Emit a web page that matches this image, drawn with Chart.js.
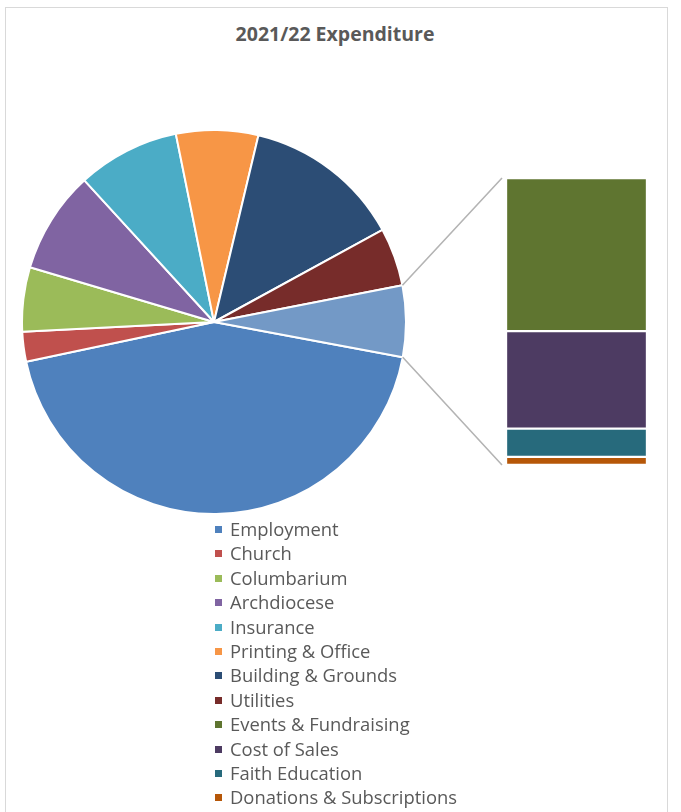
<!DOCTYPE html>
<html>
<head>
<meta charset="utf-8">
<script src="https://cdn.jsdelivr.net/npm/chart.js@4.4.1/dist/chart.umd.min.js"></script>
<style>
  body { margin: 0; background: #fff; font-family: 'Open Sans', sans-serif; }
  #frame { position: absolute; left: 5px; top: 7px; width: 661px; height: 820px; border: 1px solid #d9d9d9; }
  #title { position: absolute; left: 0; top: 20px; width: 670px; text-align: center; font-weight: bold; font-size: 19.5px; line-height: 28px; color: #595959; }
  #pie { position: absolute; left: 21px; top: 129px; }
  #bar { position: absolute; left: 506px; top: 178px; }
  #lines { position: absolute; left: 0; top: 0; pointer-events: none; }
  #legend { position: absolute; left: 214px; top: 517px; margin: 0; padding: 0; list-style: none; }
  #legend li { height: 24.4px; line-height: 24.4px; font-size: 18.4px; color: #595959; white-space: nowrap; }
  #legend span { display: inline-block; width: 7px; height: 7px; margin: 0 8px 3px 1px; vertical-align: middle; }
</style>
</head>
<body>
<div id="frame"></div>
<div id="title">2021/22 Expenditure</div>
<canvas id="pie" width="386" height="386"></canvas>
<canvas id="bar" width="141" height="287"></canvas>
<canvas id="lines" width="681" height="812"></canvas>
<ul id="legend"></ul>
<script>
// Dati (quote percentuali stimate)
const categories = ['Employment', 'Church', 'Columbarium', 'Archdiocese', 'Insurance', 'Printing & Office',
  'Building & Grounds', 'Utilities', 'Events & Fundraising', 'Cost of Sales', 'Faith Education', 'Donations & Subscriptions'];
const values = [43.7, 2.5, 5.4, 8.6, 8.6, 6.9, 13.3, 4.9, 3.2, 2.04, 0.59, 0.17];
const colors = ['#4F81BD', '#C0504D', '#9BBB59', '#8064A2', '#4BACC6', '#F79646',
  '#2C4D75', '#772C2A', '#5F7530', '#4D3B62', '#276A7C', '#B65708'];
const pieCount = 8;          // le prime 8 voci nella torta, le altre nella barra
const otherColor = '#7399C6';

const otherValues = values.slice(pieCount);
const otherTotal = otherValues.reduce((a, b) => a + b, 0);

// Torta principale
const pieChart = new Chart(document.getElementById('pie'), {
  type: 'pie',
  data: {
    labels: categories.slice(0, pieCount).concat(['Other']),
    datasets: [{
      data: values.slice(0, pieCount).concat([otherTotal]),
      backgroundColor: colors.slice(0, pieCount).concat([otherColor]),
      borderColor: '#ffffff',
      borderWidth: 2
    }]
  },
  options: {
    responsive: false,
    animation: false,
    rotation: 100.6,
    layout: { padding: 0 },
    plugins: { legend: { display: false }, tooltip: { enabled: false } }
  }
});

// Barra di dettaglio per "Other"
const barChart = new Chart(document.getElementById('bar'), {
  type: 'bar',
  data: {
    labels: [''],
    datasets: otherValues.map((v, i) => ({
      label: categories[pieCount + i],
      data: [v],
      backgroundColor: colors[pieCount + i],
      borderColor: '#ffffff',
      borderWidth: 1.5,
      borderSkipped: false,
      barPercentage: 1,
      categoryPercentage: 1
    }))
  },
  options: {
    responsive: false,
    animation: false,
    layout: { padding: 0 },
    plugins: { legend: { display: false }, tooltip: { enabled: false } },
    scales: {
      x: { display: false, stacked: true },
      y: { display: false, stacked: true, reverse: true, min: 0, max: otherTotal }
    }
  }
});

// Linee di collegamento tra la fetta "Other" e la barra
(function drawConnectors() {
  const ctx = document.getElementById('lines').getContext('2d');
  const arc = pieChart.getDatasetMeta(0).data[pieCount];
  const pieBox = document.getElementById('pie');
  const barBox = document.getElementById('bar');
  const px = pieBox.offsetLeft + arc.x, py = pieBox.offsetTop + arc.y;
  const r = arc.outerRadius;
  const area = barChart.chartArea;
  const bx = barBox.offsetLeft + area.left - 4;
  ctx.strokeStyle = '#b4b4b4';
  ctx.lineWidth = 1.6;
  ctx.beginPath();
  ctx.moveTo(px + Math.cos(arc.startAngle) * r, py + Math.sin(arc.startAngle) * r);
  ctx.lineTo(bx, barBox.offsetTop + area.top);
  ctx.moveTo(px + Math.cos(arc.endAngle) * r, py + Math.sin(arc.endAngle) * r);
  ctx.lineTo(bx, barBox.offsetTop + area.bottom);
  ctx.stroke();
})();

// Legenda: tutte le voci tranne "Other"
const legend = document.getElementById('legend');
categories.forEach((c, i) => {
  const li = document.createElement('li');
  const sw = document.createElement('span');
  sw.style.background = colors[i];
  li.appendChild(sw);
  li.appendChild(document.createTextNode(c));
  legend.appendChild(li);
});
</script>
</body>
</html>
